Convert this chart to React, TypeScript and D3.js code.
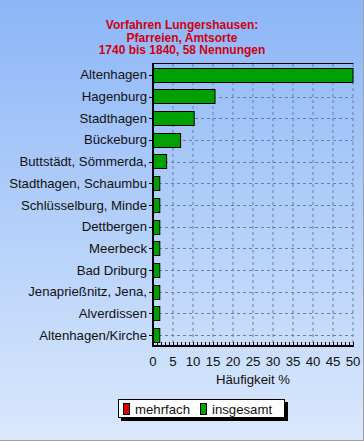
import * as d3 from "d3"
import React from "react"

const titleLines = ["Vorfahren Lungershausen:", "Pfarreien, Amtsorte", "1740 bis 1840, 58 Nennungen"]
const categories = [
  "Altenhagen", "Hagenburg", "Stadthagen", "Bückeburg", "Buttstädt, Sömmerda,",
  "Stadthagen, Schaumbu", "Schlüsselburg, Minde", "Dettbergen", "Meerbeck",
  "Bad Driburg", "Jenaprießnitz, Jena,", "Alverdissen", "Altenhagen/Kirche",
]
const insgesamt = [50, 15.5, 10.3, 6.9, 3.4, 1.7, 1.7, 1.7, 1.7, 1.7, 1.7, 1.7, 1.7]
const mehrfach = [0, 0, 0, 0, 0, 0, 0, 0, 0, 0, 0, 0, 0]
const xTicks = [0, 5, 10, 15, 20, 25, 30, 35, 40, 45, 50]
const xLabel = "Häufigkeit %"
const legendNames = ["mehrfach", "insgesamt"]

const W = 364, H = 441
const plot = { left: 153, right: 353, top: 64, bottom: 346 }
const font = "'Liberation Sans', Arial, sans-serif"

export default function App() {
  const x = d3.scaleLinear().domain([0, 50]).range([plot.left, plot.right])
  const y = d3.scaleBand().domain(categories).range([plot.top, plot.bottom]).paddingInner(0.34).paddingOuter(0.17)
  const yc = (c: string) => (y(c) as number) + y.bandwidth() / 2
  const minor = d3.range(0, 51, 1)
  const gridColor = "#6a80a0"

  return (
    <svg width={W} height={H} style={{ position: "absolute", left: 0, top: 0 }} fontFamily={font}>
      <defs>
        <linearGradient id="bg" x1="0" y1="0" x2="0" y2="1">
          <stop offset="0" stopColor="#8cb6f7" />
          <stop offset="1" stopColor="#dae8fc" />
        </linearGradient>
      </defs>
      <rect x={0} y={0} width={W} height={H} fill="url(#bg)" />
      <line x1={W - 0.5} x2={W - 0.5} y1={0} y2={H} stroke="#a0a0a0" />
      <line x1={0} x2={W} y1={H - 0.5} y2={H - 0.5} stroke="#a0a0a0" />

      {titleLines.map((t, i) => (
        <text key={i} x={W / 2} y={29 + i * 12.5} textAnchor="middle" fill="#d00010"
          fontWeight="bold" fontSize={12}>{t}</text>
      ))}

      {/* grid */}
      {xTicks.slice(1).map(t => (
        <line key={"gx" + t} x1={x(t)} x2={x(t)} y1={plot.top} y2={plot.bottom}
          stroke={gridColor} strokeDasharray="3,3" />
      ))}
      {categories.map(c => (
        <line key={"gy" + c} x1={plot.left} x2={plot.right} y1={Math.round(yc(c)) + 0.5} y2={Math.round(yc(c)) + 0.5}
          stroke={gridColor} strokeDasharray="3,3" />
      ))}

      {/* bars */}
      {categories.map((c, i) => (
        <rect key={"b" + c} x={x(0)} y={Math.round(y(c) as number) + 0.5} width={x(insgesamt[i]) - x(0)}
          height={Math.round(y.bandwidth())} fill="#00a000" stroke="#000" />
      ))}
      {categories.map((c, i) => mehrfach[i] > 0 && (
        <rect key={"m" + c} x={x(0)} y={Math.round(y(c) as number) + 0.5} width={x(mehrfach[i]) - x(0)}
          height={Math.round(y.bandwidth())} fill="#e00000" stroke="#000" />
      ))}

      {/* frame */}
      <line x1={plot.left} x2={plot.right + 0.5} y1={plot.top - 0.5} y2={plot.top - 0.5} stroke="#000" />
      <line x1={plot.left} x2={plot.left} y1={plot.top - 1} y2={plot.bottom + 1} stroke="#000" strokeWidth={2} />
      <line x1={plot.left - 1} x2={plot.right + 1} y1={plot.bottom} y2={plot.bottom} stroke="#000" strokeWidth={2} />

      {/* y axis */}
      {categories.map(c => (
        <g key={"yl" + c}>
          <line x1={plot.left - 4} x2={plot.left} y1={Math.round(yc(c)) + 0.5} y2={Math.round(yc(c)) + 0.5} stroke="#000" />
          <text x={plot.left - 6} y={yc(c) + 4.5} textAnchor="end" fontSize={13.2} fill="#111">{c}</text>
        </g>
      ))}

      {/* x axis */}
      {minor.map(t => (
        <line key={"mt" + t} x1={Math.round(x(t)) + 0.5} x2={Math.round(x(t)) + 0.5} y1={plot.bottom - 4} y2={plot.bottom}
          stroke="#000" />
      ))}
      {xTicks.map(t => (
        <text key={"xl" + t} x={x(t)} y={366} textAnchor="middle" fontSize={13.2} fill="#111">{t}</text>
      ))}
      <text x={(plot.left + plot.right) / 2} y={384} textAnchor="middle" fontSize={13.2} fill="#111">{xLabel}</text>

      {/* legend */}
      <rect x={121} y={402} width={167} height={19} fill="#000" />
      <rect x={118.5} y={399.5} width={166} height={18} fill="#fff" stroke="#000" />
      {legendNames.map((n, i) => {
        const lx = i === 0 ? 123.5 : 200.5
        return (
          <g key={n}>
            <rect x={lx} y={403.5} width={6} height={11} fill={i === 0 ? "#e00000" : "#00a000"} stroke="#000" />
            <text x={lx + 11.5} y={413.5} fontSize={13.2} fill="#111">{n}</text>
          </g>
        )
      })}
    </svg>
  )
}
